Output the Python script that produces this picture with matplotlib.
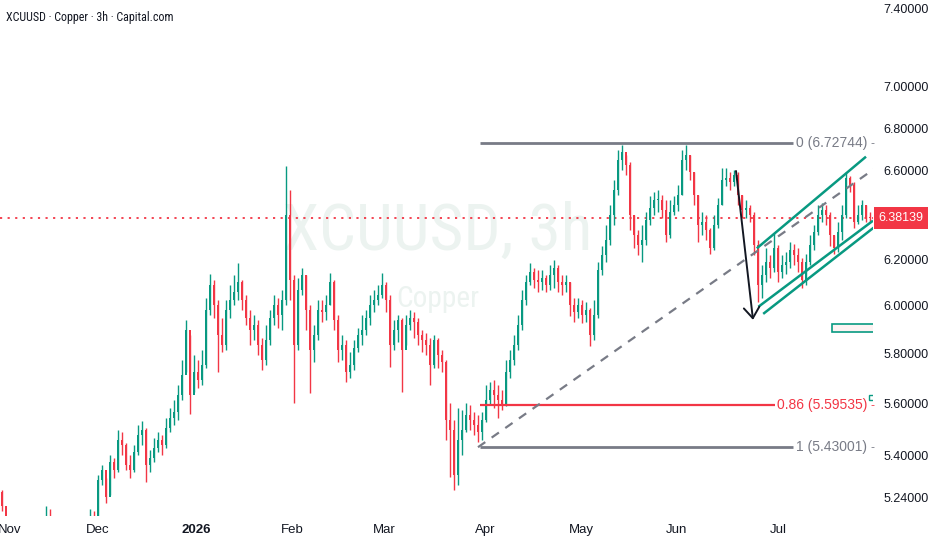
import matplotlib
matplotlib.use("Agg")
import matplotlib.pyplot as plt
from matplotlib.ticker import FixedLocator, NullLocator
from matplotlib.patches import Rectangle
import matplotlib.transforms as mtransforms
from matplotlib import font_manager as fm

# ---------------- data ----------------
first_open = 5.26
closes = [
    5.21, 5.12, 5.10, 5.08, 5.06, 5.09, 5.11, 5.10, 5.12, 5.13,
    5.14, 5.15, 5.13, 5.10, 5.08, 5.06, 5.05, 5.07, 5.09, 5.11,
    5.12, 5.13, 5.14, 5.12, 5.306, 5.343, 5.243, 5.374, 5.343, 5.458,
    5.439, 5.362, 5.343, 5.412, 5.477, 5.496, 5.362, 5.389, 5.427, 5.458,
    5.439, 5.504, 5.543, 5.567, 5.634, 5.714, 5.898, 5.634, 5.726, 5.694,
    5.754, 5.982, 6.088, 6.003, 5.877, 5.836, 5.982, 6.024, 6.058, 6.101,
    6.024, 5.948, 5.898, 5.919, 5.836, 5.775, 5.857, 5.948, 6.003, 5.961,
    6.024, 6.396, 6.110, 5.836, 6.067, 6.131, 5.982, 5.815, 5.877, 5.982,
    5.973, 6.003, 6.101, 5.940, 5.815, 5.836, 5.726, 5.754, 5.824, 5.877,
    5.898, 5.948, 6.003, 6.024, 6.045, 6.088, 6.024, 5.836, 5.898, 5.940,
    5.815, 5.919, 5.948, 5.932, 5.877, 5.857, 5.836, 5.754, 5.857, 5.795,
    5.767, 5.535, 5.496, 5.325, 5.458, 5.496, 5.555, 5.535, 5.516, 5.488,
    5.535, 5.614, 5.654, 5.634, 5.614, 5.598, 5.726, 5.775, 5.836, 5.919,
    6.024, 6.101, 6.144, 6.110, 6.101, 6.118, 6.088, 6.131, 6.162, 6.101,
    6.088, 6.101, 6.003, 5.973, 6.003, 5.961, 5.982, 5.877, 5.961, 6.153,
    6.218, 6.284, 6.396, 6.510, 6.648, 6.686, 6.625, 6.396, 6.307, 6.262,
    6.284, 6.374, 6.428, 6.464, 6.464, 6.419, 6.307, 6.410, 6.441, 6.487,
    6.648, 6.672, 6.593, 6.487, 6.351, 6.365, 6.329, 6.249, 6.351, 6.441,
    6.556, 6.565, 6.547, 6.579, 6.487, 6.419, 6.428, 6.396, 6.262, 6.088,
    6.131, 6.188, 6.162, 6.249, 6.144, 6.175, 6.188, 6.240, 6.218, 6.188,
    6.110, 6.188, 6.262, 6.320, 6.396, 6.419, 6.396, 6.307, 6.249, 6.320,
    6.396, 6.565, 6.533, 6.365, 6.396, 6.441, 6.383, 6.38139,
]
highs = [
    5.27, 5.16, 5.14, 5.12, 5.11, 5.12, 5.14, 5.14, 5.15, 5.16,
    5.16, 5.21, 5.20, 5.14, 5.12, 5.10, 5.09, 5.10, 5.12, 5.14,
    5.15, 5.16, 5.20, 5.19, 5.325, 5.362, 5.314, 5.400, 5.389, 5.496,
    5.488, 5.447, 5.400, 5.439, 5.516, 5.531, 5.504, 5.419, 5.466, 5.488,
    5.477, 5.543, 5.583, 5.614, 5.674, 5.775, 5.940, 5.877, 5.795, 5.775,
    5.815, 6.032, 6.135, 6.110, 6.024, 5.948, 6.024, 6.088, 6.131, 6.183,
    6.110, 6.045, 5.982, 5.961, 5.940, 5.865, 5.919, 5.982, 6.045, 6.032,
    6.067, 6.620, 6.510, 6.131, 6.118, 6.162, 6.131, 6.003, 5.919, 6.024,
    6.024, 6.045, 6.140, 6.110, 5.961, 5.877, 5.857, 5.807, 5.857, 5.906,
    5.961, 5.982, 6.045, 6.067, 6.088, 6.140, 6.101, 6.045, 5.940, 5.961,
    5.948, 5.961, 5.982, 5.973, 5.948, 5.898, 5.886, 5.865, 5.877, 5.865,
    5.815, 5.775, 5.602, 5.535, 5.583, 5.575, 5.602, 5.594, 5.567, 5.555,
    5.567, 5.674, 5.686, 5.694, 5.674, 5.654, 5.775, 5.815, 5.877, 5.961,
    6.067, 6.131, 6.183, 6.162, 6.153, 6.153, 6.131, 6.175, 6.196, 6.175,
    6.131, 6.131, 6.101, 6.032, 6.032, 6.024, 6.015, 5.990, 6.024, 6.188,
    6.258, 6.351, 6.441, 6.556, 6.695, 6.719, 6.672, 6.639, 6.396, 6.329,
    6.351, 6.410, 6.482, 6.501, 6.510, 6.487, 6.464, 6.464, 6.482, 6.533,
    6.695, 6.719, 6.672, 6.593, 6.487, 6.410, 6.396, 6.338, 6.396, 6.473,
    6.611, 6.611, 6.593, 6.602, 6.593, 6.487, 6.464, 6.441, 6.410, 6.284,
    6.175, 6.249, 6.218, 6.316, 6.262, 6.218, 6.231, 6.275, 6.266, 6.249,
    6.205, 6.222, 6.307, 6.351, 6.441, 6.450, 6.441, 6.410, 6.307, 6.365,
    6.441, 6.593, 6.574, 6.547, 6.441, 6.464, 6.441, 6.41,
]
lows = [
    5.19, 5.08, 5.06, 5.04, 5.02, 5.05, 5.07, 5.06, 5.08, 5.09,
    5.10, 5.11, 5.09, 5.06, 5.04, 5.02, 5.01, 5.03, 5.05, 5.07,
    5.08, 5.09, 5.10, 5.08, 5.12, 5.287, 5.221, 5.250, 5.314, 5.336,
    5.400, 5.343, 5.314, 5.336, 5.400, 5.439, 5.298, 5.336, 5.374, 5.412,
    5.400, 5.427, 5.488, 5.516, 5.535, 5.614, 5.726, 5.559, 5.646, 5.662,
    5.674, 5.742, 5.961, 5.948, 5.726, 5.807, 5.815, 5.948, 6.003, 6.024,
    5.982, 5.919, 5.836, 5.857, 5.795, 5.734, 5.754, 5.836, 5.919, 5.906,
    5.898, 6.003, 6.024, 5.602, 5.815, 6.045, 5.898, 5.642, 5.767, 5.857,
    5.932, 5.940, 6.003, 5.898, 5.767, 5.775, 5.686, 5.702, 5.734, 5.807,
    5.836, 5.877, 5.919, 5.973, 6.003, 6.032, 5.973, 5.746, 5.815, 5.848,
    5.646, 5.836, 5.898, 5.865, 5.836, 5.807, 5.795, 5.674, 5.742, 5.742,
    5.726, 5.458, 5.317, 5.269, 5.287, 5.400, 5.488, 5.496, 5.477, 5.451,
    5.458, 5.527, 5.594, 5.583, 5.543, 5.575, 5.590, 5.702, 5.754, 5.815,
    5.898, 6.003, 6.088, 6.075, 6.058, 6.067, 6.058, 6.067, 6.075, 6.058,
    6.045, 6.058, 5.957, 5.932, 5.948, 5.927, 5.932, 5.832, 5.857, 5.948,
    6.131, 6.188, 6.262, 6.351, 6.487, 6.602, 6.579, 6.329, 6.249, 6.218,
    6.188, 6.262, 6.351, 6.396, 6.410, 6.383, 6.275, 6.293, 6.396, 6.414,
    6.487, 6.602, 6.556, 6.441, 6.275, 6.307, 6.284, 6.222, 6.240, 6.338,
    6.441, 6.528, 6.510, 6.528, 6.441, 6.383, 6.383, 6.365, 6.218, 6.015,
    6.032, 6.101, 6.118, 6.144, 6.101, 6.118, 6.135, 6.162, 6.175, 6.144,
    6.075, 6.088, 6.175, 6.240, 6.307, 6.365, 6.351, 6.258, 6.222, 6.231,
    6.284, 6.383, 6.501, 6.338, 6.356, 6.374, 6.365, 6.365,
]
last_price = 6.38139

month_labels = ["Nov", "Dec", "2026", "Feb", "Mar", "Apr", "May", "Jun", "Jul"]
month_pos = [2.0, 24.0, 48.5, 72.5, 95.5, 120.75, 144.75, 168.75, 194.0]

ytick_vals = [7.40, 7.00, 6.80, 6.60, 6.20, 6.00, 5.80, 5.60, 5.40, 5.24]
ytick_labels = ["7.40000", "7.00000", "6.80000", "6.60000", "6.20000",
                "6.00000", "5.80000", "5.60000", "5.40000", "5.24000"]

fib_levels = [6.72744, 5.59535, 5.43001]
fib_names = ["0", "0.86", "1"]
fib_start = 119.5
fib_end = [197.75, 193.25, 197.75]

trend_pts = [(119.0, 5.43), (218.0, 6.606)]
channel_upper = [(188.7, 6.247), (216.0, 6.664)]
channel_mid = [(189.1, 5.995), (217.75, 6.370)]
channel_low = [(190.3, 5.965), (218.0, 6.340)]
arrow_pts = [(183.5, 6.597), (187.75, 5.94)]
box_x = (207.5, 218.5)
box_y = (5.891, 5.923)

title_text = "XCUUSD · Copper · 3h · Capital.com"
wm_text = "XCUUSD, 3h"
wm_sub = "Copper"

UP = "#089981"
DOWN = "#f23645"
GREY = "#787b86"
TXT = "#131722"

# ---------------- fonts ----------------
ttf = fm.fontManager.ttflist
names = {f.name for f in ttf}
narrow_family = None
narrow_stretch = "normal"
for cand in ["Liberation Sans Narrow", "Roboto Condensed", "Open Sans Condensed",
             "DejaVu Sans Condensed", "Noto Sans Condensed"]:
    if cand in names:
        narrow_family = cand
        break
if narrow_family is None:
    for f in ttf:
        if f.name in ("DejaVu Sans", "Noto Sans", "Open Sans", "Roboto") and \
                "ondensed" in f.fname and "Bold" not in f.fname and "Oblique" not in f.fname:
            narrow_family = f.name
            narrow_stretch = "condensed"
            break
if narrow_family is None:
    narrow_family = "Liberation Sans"
NARROW = dict(family=[narrow_family, "DejaVu Sans"], stretch=narrow_stretch)
BASE = ["Liberation Sans", "DejaVu Sans"]

# ---------------- figure ----------------
W, H = 932, 550
fig = plt.figure(figsize=(W / 100, H / 100), dpi=100)
fig.patch.set_facecolor("white")
ax = fig.add_axes([0, 34 / H, 873 / W, 516 / H])
ax.set_facecolor("white")
ax.set_yscale("log")
ax.set_xlim(-0.5, 217.75)
ax.set_ylim(5.173, 7.442)
for s in ax.spines.values():
    s.set_visible(False)

opens = [first_open] + closes[:-1]
xs = list(range(len(closes)))
cols = [UP if c >= o else DOWN for o, c in zip(opens, closes)]
ax.vlines(xs, lows, highs, colors=cols, linewidth=1.0, zorder=3)
bottoms = [min(o, c) for o, c in zip(opens, closes)]
heights = [max(abs(c - o), 0.004) for o, c in zip(opens, closes)]
ax.bar(xs, heights, bottom=bottoms, width=0.72, color=cols, linewidth=0, zorder=3)

# watermark
wm1 = ax.text(0.501, 0.55, wm_text, transform=ax.transAxes, ha="center", va="center",
              fontsize=40, color="#ecf3f0", zorder=0, **NARROW)
wm2 = ax.text(0.502, 0.42, wm_sub, transform=ax.transAxes, ha="center", va="center",
              fontsize=22, color="#ecf3f0", zorder=0, **NARROW)

# current price dotted line
ax.axhline(last_price, color=DOWN, linestyle=(0, (1.2, 3)), linewidth=1.3, zorder=2)

# fib lines
fib_cols = [GREY, DOWN, GREY]
fib_lw = [2.0, 1.6, 2.0]
blend = mtransforms.blended_transform_factory(ax.transAxes, ax.transData)
for lvl, nm, xe, c, lw in zip(fib_levels, fib_names, fib_end, fib_cols, fib_lw):
    ax.plot([fib_start, xe], [lvl, lvl], color=c, linewidth=lw, zorder=4,
            solid_capstyle="butt")
    ax.text(216.3, lvl, f"{nm} ({lvl:.5f})", ha="right", va="center",
            fontsize=10, color=c, family=BASE, zorder=5)
    ax.text(0.9995, lvl, "-", transform=blend, ha="center", va="center",
            fontsize=8, color=c, zorder=5)

# dashed trend line
ax.plot([p[0] for p in trend_pts], [p[1] for p in trend_pts], color=GREY,
        linestyle=(0, (4, 3.5)), linewidth=1.6, zorder=4)

# channel
for seg in (channel_upper, channel_mid, channel_low):
    ax.plot([p[0] for p in seg], [p[1] for p in seg], color=UP, linewidth=1.8,
            zorder=5, solid_capstyle="butt")

# arrow
ax.annotate("", xy=arrow_pts[1], xytext=arrow_pts[0],
            arrowprops=dict(arrowstyle="->,head_length=0.55,head_width=0.4",
                            color=TXT, lw=1.4, mutation_scale=14,
                            shrinkA=0, shrinkB=0), zorder=6)

# small green boxes
ax.add_patch(Rectangle((box_x[0], box_y[0]), box_x[1] - box_x[0], box_y[1] - box_y[0],
                       facecolor="#fdf3f3", edgecolor=UP, linewidth=1.2, zorder=5))
ax.add_patch(Rectangle((216.8, 5.614), 1.5, 0.02, facecolor="none", edgecolor=UP,
                       linewidth=1.0, zorder=5))

# axes ticks
ax.yaxis.tick_right()
ax.yaxis.set_major_locator(FixedLocator(ytick_vals))
ax.yaxis.set_minor_locator(NullLocator())
ax.set_yticklabels(ytick_labels)
ax.set_xticks(month_pos)
ax.set_xticklabels(month_labels)
ax.xaxis.set_minor_locator(NullLocator())
ax.tick_params(axis="y", length=0, pad=7.5, labelsize=9, labelcolor=TXT)
ax.tick_params(axis="x", length=0, pad=5.5, labelsize=9.5, labelcolor=TXT)
for lab in ax.get_yticklabels() + ax.get_xticklabels():
    lab.set_family(BASE)
for lab in ax.get_xticklabels():
    if lab.get_text() == "2026":
        lab.set_fontweight("bold")

# price label
ax.text(1.0 + 28 / 873, last_price, f"{last_price:.5f}", transform=blend,
        ha="center", va="center", fontsize=9, color="white", family=BASE,
        bbox=dict(boxstyle="square,pad=0.38", fc=DOWN, ec="none"), clip_on=False,
        zorder=10)

# title
ttl = fig.text(6 / W, 1 - 17 / H, title_text, ha="left", va="center",
               fontsize=9.5, color=TXT, **NARROW)

# fit text widths to the reference extents (pixels)
fig.canvas.draw()
r = fig.canvas.get_renderer()
for t, target in ((ttl, 168.0), (wm1, 309.0), (wm2, 83.0)):
    w = t.get_window_extent(renderer=r).width
    if w > 0:
        t.set_fontsize(t.get_fontsize() * target / w)

fig.savefig("out.png", dpi=100, facecolor="white")
